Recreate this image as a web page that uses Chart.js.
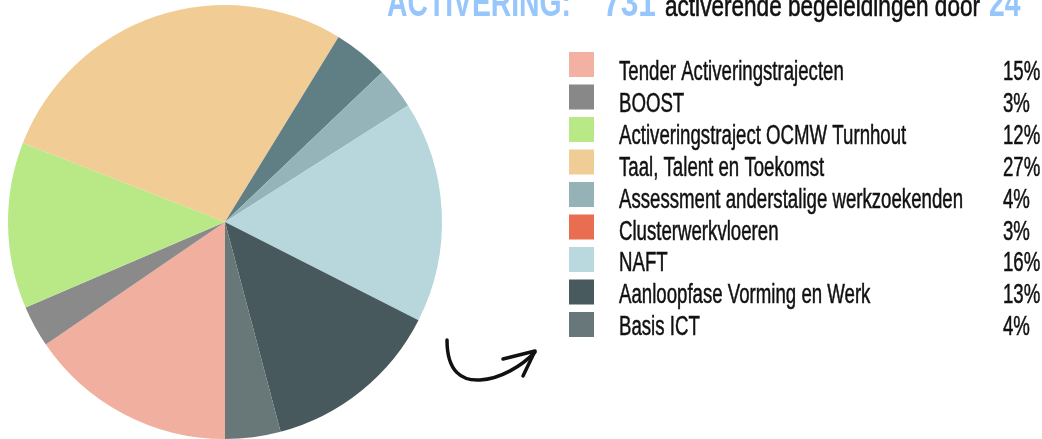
<!DOCTYPE html>
<html>
<head>
<meta charset="utf-8">
<script src="https://cdn.jsdelivr.net/npm/chart.js@4"></script>
<style>
  html, body { margin: 0; padding: 0; background: #fff; overflow: hidden; }
  canvas { display: block; }
</style>
</head>
<body>
<canvas id="pieChart" width="1042" height="439"></canvas>
<script>
// Data
const labels = [
  'Tender Activeringstrajecten',
  'BOOST',
  'Activeringstraject OCMW Turnhout',
  'Taal, Talent en Toekomst',
  'Assessment anderstalige werkzoekenden',
  'Clusterwerkvloeren',
  'NAFT',
  'Aanloopfase Vorming en Werk',
  'Basis ICT'
];
const percentages = [15, 3, 12, 27, 4, 3, 16, 13, 4];
const sliceColors = ['#f1af9f', '#8a8a8a', '#b9e887', '#f1cc94', '#5f7f85', '#95b4b9', '#b8d7dc', '#48595e', '#687879'];
const legendColors = ['#f2b1a3', '#888888', '#b8e986', '#f0cd96', '#95b2b7', '#e96d50', '#b9d9de', '#495a5f', '#687779'];
const titleParts = ['ACTIVERING:', '731', 'activerende begeleidingen door', '24'];

const FONT = '"Liberation Sans Narrow", "Liberation Sans", sans-serif';
const BLUE = '#97c6fc';

// draw text squeezed horizontally (the original uses a condensed display font)
function drawCondensed(ctx, text, x, y, sx, weight) {
  ctx.save();
  ctx.translate(x, y);
  ctx.scale(sx, 1);
  if (weight) {
    ctx.lineWidth = weight;
    ctx.strokeStyle = ctx.fillStyle;
    ctx.strokeText(text, 0, 0);
  }
  ctx.fillText(text, 0, 0);
  ctx.restore();
}

const decorations = {
  id: 'decorations',
  afterDraw(chart) {
    const ctx = chart.ctx;
    ctx.save();
    ctx.textBaseline = 'alphabetic';
    ctx.textAlign = 'left';

    // title (cut off at the top in the original)
    ctx.fillStyle = BLUE;
    ctx.font = `bold 40px ${FONT}`;
    const sxBlue = 184 / ctx.measureText(titleParts[0]).width;
    drawCondensed(ctx, titleParts[0], 387, 16, sxBlue);
    drawCondensed(ctx, titleParts[1], 603, 16, sxBlue * 1.12);
    drawCondensed(ctx, titleParts[3], 989, 16, sxBlue);
    ctx.fillStyle = '#111';
    ctx.font = `29px ${FONT}`;
    const sxBlack = 315 / ctx.measureText(titleParts[2]).width;
    drawCondensed(ctx, titleParts[2], 665, 16, sxBlack, 0.6);

    // legend
    ctx.font = `27px ${FONT}`;
    const sxLegend = 344 / ctx.measureText(labels[4]).width;
    labels.forEach((label, i) => {
      const top = 52 + 32.5 * i;
      const base = top + 28 - 0.6 * i;
      ctx.fillStyle = legendColors[i];
      ctx.fillRect(569, top, 25, 25);
      ctx.fillStyle = '#111';
      drawCondensed(ctx, label, 619, base, sxLegend, 0.5);
      drawCondensed(ctx, percentages[i] + '%', 1003, base, sxLegend, 0.5);
    });

    // hand drawn arrow
    ctx.strokeStyle = '#111';
    ctx.lineWidth = 3.5;
    ctx.lineCap = 'round';
    ctx.lineJoin = 'round';
    ctx.beginPath();
    ctx.moveTo(447, 340);
    ctx.bezierCurveTo(447, 372, 462, 381, 480, 380);
    ctx.bezierCurveTo(500, 379, 522, 366, 535, 352);
    ctx.stroke();
    ctx.beginPath();
    ctx.moveTo(503, 359);
    ctx.lineTo(535, 351);
    ctx.lineTo(523, 376);
    ctx.stroke();
    ctx.restore();
  }
};

new Chart(document.getElementById('pieChart'), {
  type: 'pie',
  data: {
    labels: labels,
    datasets: [{
      data: percentages,
      backgroundColor: sliceColors,
      borderWidth: 0
    }]
  },
  options: {
    responsive: false,
    animation: false,
    rotation: 180,
    layout: { padding: { left: 8, top: 5, right: 600, bottom: 0 } },
    plugins: {
      legend: { display: false },
      tooltip: { enabled: false }
    }
  },
  plugins: [decorations]
});
</script>
</body>
</html>
